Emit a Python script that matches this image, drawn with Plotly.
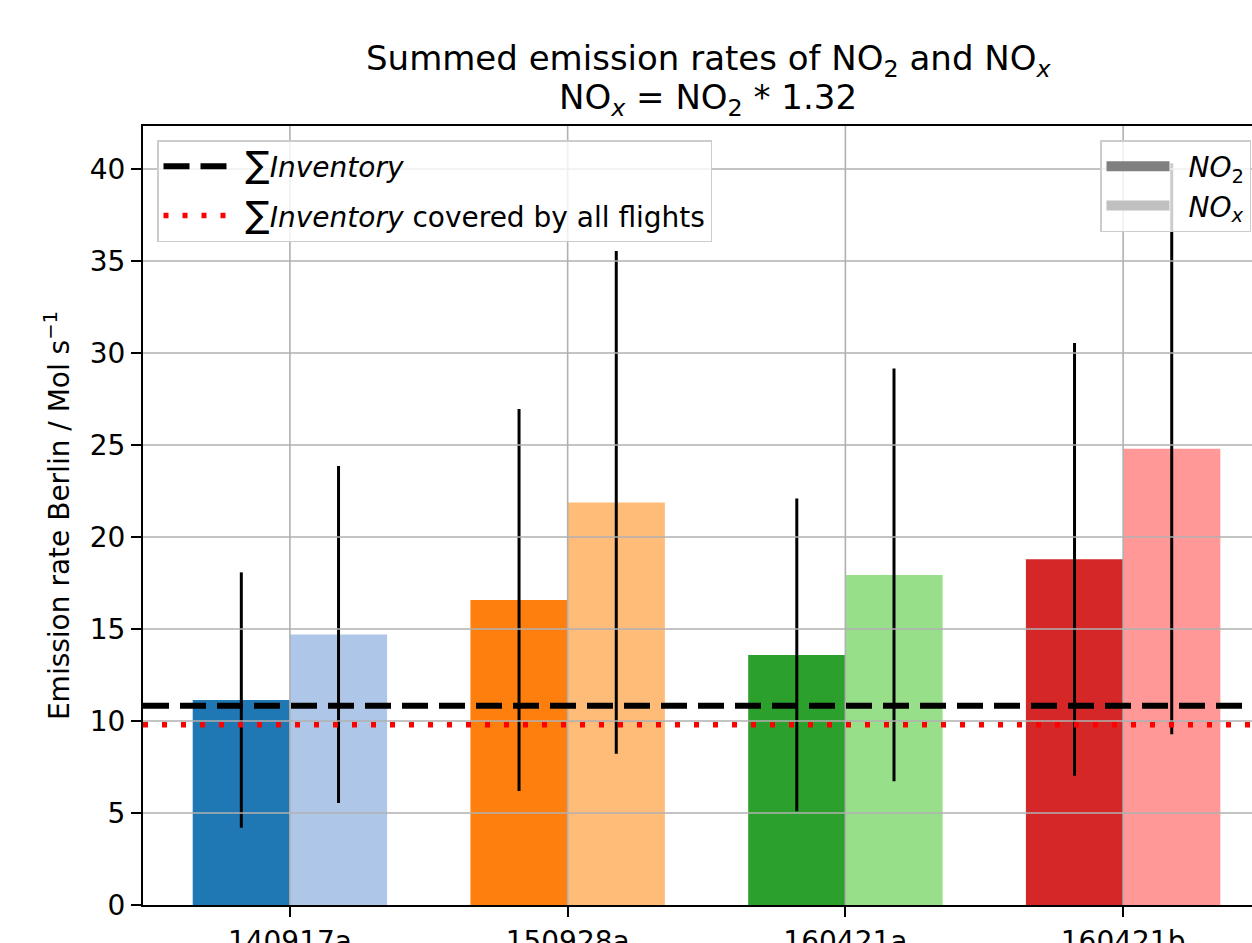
import plotly.graph_objects as go

# Flights and summed emission rates (Mol/s) with their uncertainties
flights = ["140917a", "150928a", "160421a", "160421b"]
no2_rate = [11.14, 16.58, 13.59, 18.79]
no2_err = [6.94, 10.38, 8.50, 11.76]
nox_rate = [14.70, 21.88, 17.94, 24.80]
nox_err = [9.16, 13.66, 11.22, 15.52]

# Inventory reference levels
inventory_sum = 10.83
inventory_covered = 9.80

y_ticks = [0, 5, 10, 15, 20, 25, 30, 35, 40]

no2_colors = ["#1f77b4", "#ff7f0e", "#2ca02c", "#d62728"]
nox_colors = ["#aec7e8", "#ffbb78", "#98df8a", "#ff9896"]

FONT = "DejaVu Sans"
W, H = 1252, 943
ML, MT, MB = 143, 126, 38
PW = W - ML
PH = H - MT - MB

bar_w = 0.35
GAP = "\u2002"  # spacing between legend key and label
SUM = "<span style=\"font-size:36px\">∑</span>"

fig = go.Figure()

fig.add_trace(go.Bar(
    x=flights, y=no2_rate, width=bar_w, offset=-bar_w,
    marker=dict(color=no2_colors, line=dict(width=0)),
    error_y=dict(type="data", array=no2_err, color="black", thickness=3, width=0),
    showlegend=False,
))
fig.add_trace(go.Bar(
    x=flights, y=nox_rate, width=bar_w, offset=0,
    marker=dict(color=nox_colors, line=dict(width=0)),
    error_y=dict(type="data", array=nox_err, color="black", thickness=3, width=0),
    showlegend=False,
))

# grey legend keys for the two species
fig.add_trace(go.Scatter(
    x=[None], y=[None], mode="lines", line=dict(color="#808080", width=20),
    name=GAP + "<i>NO</i><sub>2</sub>", legend="legend2",
))
fig.add_trace(go.Scatter(
    x=[None], y=[None], mode="lines", line=dict(color="#c0c0c0", width=20),
    name=GAP + "<i>NO<sub>x</sub></i>", legend="legend2",
))

shapes = []
# grid drawn over the bars
for v in y_ticks[1:]:
    shapes.append(dict(type="line", xref="x domain", x0=0, x1=1, yref="y", y0=v, y1=v,
                       line=dict(color="#b0b0b0", width=1.6), layer="above"))
for f in flights:
    shapes.append(dict(type="line", xref="x", x0=f, x1=f, yref="y domain", y0=0, y1=1,
                       line=dict(color="#b0b0b0", width=1.6), layer="above"))

shapes.append(dict(
    type="line", xref="x domain", x0=0, x1=1, yref="y", y0=inventory_sum, y1=inventory_sum,
    line=dict(color="black", width=6, dash="26px,11px"), layer="above",
    showlegend=True, legend="legend", legendgroup="inv",
    name=GAP + SUM + "<i>Inventory</i>",
))
shapes.append(dict(
    type="line", xref="x domain", x0=0, x1=1, yref="y", y0=inventory_covered, y1=inventory_covered,
    line=dict(color="red", width=5.5, dash="5px,14px"), layer="above",
    showlegend=True, legend="legend", legendgroup="inv_cov",
    name=GAP + SUM + "<i>Inventory</i> covered by all flights",
))

annotations = [
    dict(text="Summed emission rates of NO<sub>2</sub> and NO<sub><i>x</i></sub>",
         xref="paper", yref="paper", x=(708 - ML) / PW, y=(H - MB - 61) / PH,
         xanchor="center", yanchor="middle", showarrow=False,
         font=dict(family=FONT, size=34, color="black")),
    dict(text="NO<sub><i>x</i></sub> = NO<sub>2</sub> * 1.32",
         xref="paper", yref="paper", x=(708 - ML) / PW, y=(H - MB - 99) / PH,
         xanchor="center", yanchor="middle", showarrow=False,
         font=dict(family=FONT, size=34, color="black")),
]

legend_common = dict(
    bgcolor="rgba(255,255,255,0.8)", bordercolor="#cccccc", borderwidth=1.5,
    font=dict(family=FONT, size=28, color="black"),
    xanchor="left", yanchor="top", itemwidth=63,
)

fig.update_layout(
    width=W, height=H,
    margin=dict(l=ML, r=0, t=MT, b=MB, autoexpand=False),
    paper_bgcolor="white", plot_bgcolor="white",
    barmode="overlay",
    font=dict(family=FONT, size=28, color="black"),
    shapes=shapes,
    annotations=annotations,
    legend=dict(x=(157 - ML) / PW, y=(H - MB - 140) / PH,
                traceorder="grouped", tracegroupgap=10, **legend_common),
    legend2=dict(x=(1100 - ML) / PW, y=(H - MB - 140) / PH, **legend_common),
    xaxis=dict(
        type="category", categoryorder="array", categoryarray=flights,
        range=[-0.529, 3.464], showgrid=False, zeroline=False,
        showline=True, linecolor="black", linewidth=2, mirror=True,
        ticks="outside", ticklen=10, tickwidth=2, tickcolor="black",
        tickfont=dict(family=FONT, size=28, color="black"),
    ),
    yaxis=dict(
        range=[0, 42.34], tickvals=y_ticks, showgrid=False, zeroline=False,
        showline=True, linecolor="black", linewidth=2, mirror=False,
        ticks="outside", ticklen=10, tickwidth=2, tickcolor="black",
        tickfont=dict(family=FONT, size=28, color="black"),
        title=dict(text="Emission rate Berlin / Mol s<sup>−1</sup>", standoff=12,
                   font=dict(family=FONT, size=28, color="black")),
    ),
)

fig.write_html("out.html")
